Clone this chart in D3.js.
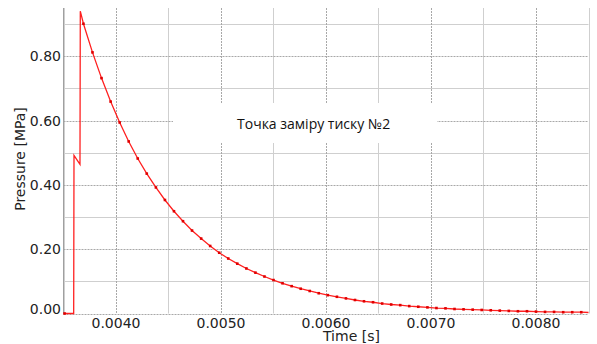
<!DOCTYPE html>
<html>
<head>
<meta charset="utf-8">
<script src="https://cdn.jsdelivr.net/npm/d3@7"></script>
<style>
  html, body { margin: 0; padding: 0; background: #fff; }
  svg { display: block; }
</style>
</head>
<body>
<svg id="chart" width="597" height="344"></svg>
<script>
// ---- data ----
const rampTimes = [0.003510, 0.003597, 0.003600, 0.003657, 0.003660];
const rampPressures = [0.000, 0.000, 0.492, 0.464, 0.940];

const markerTimes = [
  0.003690, 0.003776, 0.003862, 0.003949, 0.004035, 0.004121, 0.004207, 0.004293,
  0.004380, 0.004466, 0.004552, 0.004638, 0.004724, 0.004811, 0.004897, 0.004983,
  0.005069, 0.005155, 0.005242, 0.005328, 0.005414, 0.005500, 0.005586, 0.005673,
  0.005759, 0.005845, 0.005931, 0.006017, 0.006104, 0.006190, 0.006276, 0.006362,
  0.006448, 0.006535, 0.006621, 0.006707, 0.006793, 0.006879, 0.006966, 0.007052,
  0.007138, 0.007224, 0.007310, 0.007397, 0.007483, 0.007569, 0.007655, 0.007741,
  0.007828, 0.007914, 0.008000, 0.008086, 0.008172, 0.008259, 0.008345, 0.008431,
  0.008517
];
const markerPressures = [
  0.901, 0.812, 0.732, 0.659, 0.594, 0.535, 0.482, 0.435,
  0.392, 0.353, 0.318, 0.287, 0.258, 0.233, 0.210, 0.189,
  0.171, 0.155, 0.140, 0.127, 0.115, 0.104, 0.094, 0.085,
  0.077, 0.070, 0.063, 0.057, 0.052, 0.047, 0.042, 0.038,
  0.035, 0.031, 0.028, 0.026, 0.023, 0.021, 0.019, 0.017,
  0.016, 0.014, 0.013, 0.012, 0.011, 0.010, 0.009, 0.008,
  0.007, 0.007, 0.006, 0.005, 0.005, 0.004, 0.004, 0.004,
  0.003
];

const xMajorTicks = [0.004, 0.005, 0.006, 0.007, 0.008];
const xTickLabels = ["0.0040", "0.0050", "0.0060", "0.0070", "0.0080"];
const xMinorTicks = [0.0035, 0.0045, 0.0055, 0.0065, 0.0075, 0.0085];
const yMajorTicks = [0.0, 0.2, 0.4, 0.6, 0.8];
const yTickLabels = ["0.00", "0.20", "0.40", "0.60", "0.80"];
const yMinorTicks = [0.1, 0.3, 0.5, 0.7, 0.9];

const xTitle = "Time [s]";
const yTitle = "Pressure [MPa]";
const annotation = "Точка заміру тиску №2";

// ---- layout ----
const svg = d3.select("#chart");
const L = 63.5, R = 588.5, T = 8, B = 313.5;
const x = d3.scaleLinear().domain([0.0035, 0.0085]).range([L, R]);
const y = d3.scaleLinear().domain([0, 0.95]).range([B, T]);

const font = "'DejaVu Sans', Verdana, sans-serif";

// minor grid (solid, light)
const grid = svg.append("g");
grid.selectAll(".vmin").data(xMinorTicks).join("line")
  .attr("x1", d => Math.round(x(d)) + 0.5).attr("x2", d => Math.round(x(d)) + 0.5)
  .attr("y1", T).attr("y2", B)
  .attr("stroke", "#cfcfcf").attr("stroke-width", 1);
grid.selectAll(".hmin").data(yMinorTicks).join("line")
  .attr("x1", L).attr("x2", R)
  .attr("y1", d => Math.round(y(d)) + 0.5).attr("y2", d => Math.round(y(d)) + 0.5)
  .attr("stroke", "#cfcfcf").attr("stroke-width", 1);
// major grid (dotted)
grid.selectAll(".vmaj").data(xMajorTicks).join("line")
  .attr("x1", d => Math.round(x(d)) + 0.5).attr("x2", d => Math.round(x(d)) + 0.5)
  .attr("y1", T).attr("y2", B)
  .attr("stroke", "#a8a8a8").attr("stroke-width", 1).attr("stroke-dasharray", "2,1");
grid.selectAll(".hmaj").data(yMajorTicks).join("line")
  .attr("x1", L).attr("x2", R)
  .attr("y1", d => Math.round(y(d)) + 0.5).attr("y2", d => Math.round(y(d)) + 0.5)
  .attr("stroke", "#a8a8a8").attr("stroke-width", 1).attr("stroke-dasharray", "2,1");

// left axis line
svg.append("line").attr("x1", L).attr("x2", L).attr("y1", T).attr("y2", B + 0.5)
  .attr("stroke", "#a0a0a0").attr("stroke-width", 1);

// annotation box (white background hides grid)
svg.append("rect").attr("x", 173).attr("y", 103).attr("width", 264).attr("height", 40)
  .attr("fill", "#fff");
svg.append("text").attr("x", 237).attr("y", 128.5)
  .attr("font-family", "'Open Sans', sans-serif").attr("font-size", 14)
  .attr("fill", "#111").text(annotation);

// data line
svg.append("clipPath").attr("id", "clip").append("rect")
  .attr("x", L - 3).attr("y", 0).attr("width", R - L + 3).attr("height", B + 4);

const linePts = rampTimes.map((t, i) => [t, rampPressures[i]])
  .concat(markerTimes.map((t, i) => [t, markerPressures[i]]));
const line = d3.line().x(d => x(d[0])).y(d => y(d[1]));
const plot = svg.append("g").attr("clip-path", "url(#clip)");
plot.append("path").datum(linePts).attr("d", line)
  .attr("fill", "none").attr("stroke", "#ff2020").attr("stroke-width", 1.3)
  .attr("stroke-linejoin", "miter");
const markerPts = [[rampTimes[0], rampPressures[0]]]
  .concat(markerTimes.map((t, i) => [t, markerPressures[i]]));
plot.selectAll(".m").data(markerPts).join("rect")
  .attr("x", d => x(d[0]) - 1.3).attr("y", d => y(d[1]) - 1.3)
  .attr("width", 2.6).attr("height", 2.6).attr("fill", "#e00000");

// tick labels
svg.selectAll(".yl").data(yMajorTicks).join("text")
  .attr("x", 61).attr("y", (d, i) => y(d) + (i === 0 ? 0 : 5))
  .attr("text-anchor", "end").attr("font-family", font).attr("font-size", 14)
  .attr("fill", "#222").text((d, i) => yTickLabels[i]);
svg.selectAll(".xl").data(xMajorTicks).join("text")
  .attr("x", d => x(d)).attr("y", 327.5)
  .attr("text-anchor", "middle").attr("font-family", font).attr("font-size", 14)
  .attr("fill", "#222").text((d, i) => xTickLabels[i]);

// axis titles
svg.append("text").attr("x", 323).attr("y", 341)
  .attr("font-family", font).attr("font-size", 14).attr("fill", "#222").text(xTitle);
svg.append("text").attr("transform", "translate(25,159) rotate(-90)")
  .attr("text-anchor", "middle").attr("font-family", font).attr("font-size", 14)
  .attr("fill", "#222").text(yTitle);
</script>
</body>
</html>
